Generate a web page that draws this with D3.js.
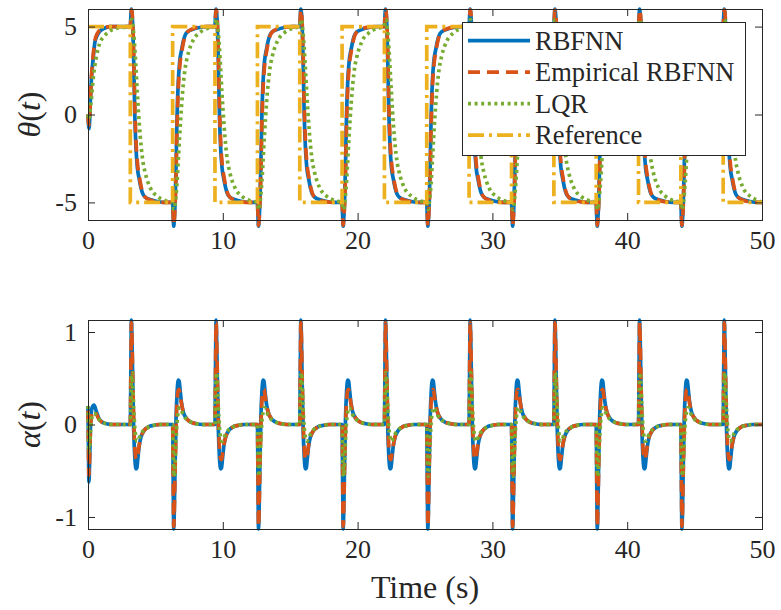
<!DOCTYPE html>
<html>
<head>
<meta charset="utf-8">
<script src="https://cdn.jsdelivr.net/npm/d3@7"></script>
<style>
body { margin: 0; background: #fff; }
#chart, #chart text, #chart tspan { font-family: 'Liberation Serif' !important; }
</style>
</head>
<body>
<svg id="chart" width="781" height="610" font-family="Liberation Serif"></svg>
<script>
// ---- data ----
// square wave reference switches every pi seconds
var switchTimes = [3.14, 6.28, 9.42, 12.57, 15.71, 18.85, 21.99, 25.13, 28.27, 31.42, 34.56, 37.70, 40.84, 43.98, 47.12];
var refLevels = [5, -5, 5, -5, 5, -5, 5, -5, 5, -5, 5, -5, 5, -5, 5, -5];
var endTime = 50;

var xTicks = [0, 10, 20, 30, 40, 50];
var thetaTicks = [-5, 0, 5];
var alphaTicks = [-1, 0, 1];
var seriesNames = ["RBFNN", "Empirical RBFNN", "LQR", "Reference"];
var seriesColors = ["#0072BD", "#D95319", "#77AC30", "#EDB120"];

// first segment, start at rest (t measured from 0)
var thetaInitDt = [0, 0.07, 0.12, 0.18, 0.25, 0.33, 0.42, 0.5, 0.65, 0.87, 1.2, 1.6, 2.2, 3.2];
var thetaInitRbfnn = [0, -0.8, -0.4, 0.85, 2.0, 2.75, 3.5, 4.05, 4.45, 4.73, 4.9, 5.0, 5.0, 5.0];
var thetaInitEmp = [0, -0.6, -0.2, 0.9, 2.1, 2.9, 3.65, 4.15, 4.55, 4.8, 4.93, 5.0, 5.0, 5.0];
var thetaInitLqr = [0, -0.3, -0.1, 0.4, 0.85, 1.6, 2.3, 2.75, 3.4, 4.05, 4.45, 4.73, 4.92, 5.0];

// response after a switch (t measured from the switch)
var thetaStepDt = [0, 0.04, 0.08, 0.12, 0.18, 0.25, 0.33, 0.42, 0.52, 0.67, 0.8, 0.92, 1.1, 1.5, 2.0, 2.6, 3.2];
var thetaDownRbfnn = [5, 5.6, 6.0, 5.8, 5.0, 3.0, 0.0, -1.9, -3.0, -3.7, -4.2, -4.5, -4.7, -4.85, -4.95, -5.0, -5.0];
var thetaUpRbfnn = [-5, -5.8, -6.35, -6.0, -5.0, -3.0, 0.0, 1.9, 3.0, 3.7, 4.2, 4.5, 4.7, 4.85, 4.95, 5.0, 5.0];
var thetaDownEmp = [5, 5.5, 5.95, 5.85, 5.2, 3.5, 0.6, -1.5, -2.7, -3.55, -4.1, -4.45, -4.7, -4.88, -4.97, -5.0, -5.0];
var thetaUpEmp = [-5, -5.7, -6.3, -6.05, -5.2, -3.5, -0.6, 1.5, 2.7, 3.55, 4.1, 4.45, 4.7, 4.88, 4.97, 5.0, 5.0];
var thetaDownLqr = [5, 5.2, 5.4, 5.4, 5.1, 4.6, 3.8, 2.6, 1.2, -0.6, -1.8, -2.6, -3.3, -4.2, -4.65, -4.9, -5.0];
var thetaUpLqr = [-5, -5.2, -5.4, -5.4, -5.1, -4.6, -3.8, -2.6, -1.2, 0.6, 1.8, 2.6, 3.3, 4.2, 4.65, 4.9, 5.0];

var alphaInitDt = [0, 0.03, 0.07, 0.12, 0.2, 0.3, 0.45, 0.6, 0.8, 1.0, 1.3, 1.8, 3.2];
var alphaInitRbfnn = [0.2, -0.2, -0.62, -0.4, 0.05, 0.18, 0.21, 0.15, 0.07, 0.03, 0.01, 0, 0];
var alphaInitEmp = [0.15, -0.15, -0.55, -0.35, 0.0, 0.12, 0.15, 0.12, 0.06, 0.03, 0.01, 0, 0];
var alphaInitLqr = [0.2, 0.0, -0.3, -0.25, -0.05, 0.08, 0.12, 0.1, 0.06, 0.03, 0.01, 0, 0];

var alphaStepDt = [0, 0.04, 0.08, 0.12, 0.18, 0.25, 0.33, 0.42, 0.48, 0.55, 0.65, 0.8, 1.0, 1.3, 1.7, 2.2, 3.2];
var alphaDownRbfnn = [0, 0.6, 1.13, 0.95, 0.45, -0.05, -0.35, -0.48, -0.47, -0.38, -0.24, -0.13, -0.07, -0.03, -0.01, 0, 0];
var alphaUpRbfnn = [0, -0.6, -1.13, -0.95, -0.45, 0.05, 0.35, 0.48, 0.47, 0.38, 0.24, 0.13, 0.07, 0.03, 0.01, 0, 0];
var alphaDownEmp = [0, 0.55, 1.1, 0.95, 0.5, 0.05, -0.25, -0.37, -0.38, -0.33, -0.23, -0.13, -0.07, -0.03, -0.01, 0, 0];
var alphaUpEmp = [0, -0.55, -1.1, -0.95, -0.5, -0.05, 0.25, 0.37, 0.38, 0.33, 0.23, 0.13, 0.07, 0.03, 0.01, 0, 0];
var alphaDownLqr = [0, 0.25, 0.5, 0.56, 0.42, 0.18, -0.03, -0.14, -0.18, -0.18, -0.15, -0.1, -0.06, -0.03, -0.01, 0, 0];
var alphaUpLqr = [0, -0.25, -0.5, -0.56, -0.42, -0.18, 0.03, 0.14, 0.18, 0.18, 0.15, 0.1, 0.06, 0.03, 0.01, 0, 0];

// ---- layout ----
var left = 88, right = 762;
var topPanel = { top: 9, bottom: 220 };
var botPanel = { top: 320, bottom: 529 };
var serifFont = "'Liberation Serif'";
var ink = "#262626";

var svg = d3.select("#chart");

var x = d3.scaleLinear().domain([0, endTime]).range([left, right]);
var yTheta = d3.scaleLinear().domain([-6, 6]).range([topPanel.bottom, topPanel.top]);
var yAlpha = d3.scaleLinear().domain([-1.13, 1.13]).range([botPanel.bottom, botPanel.top]);

// stitch the per-switch profiles into one series
function buildSeries(initDt, initVals, stepDt, downVals, upVals) {
	var pts = [];
	var starts = [0].concat(switchTimes);
	var lastVals = initVals;
	for (var k = 0; k < starts.length; k++) {
		var t0 = starts[k];
		var t1 = k + 1 < starts.length ? starts[k + 1] : endTime;
		var dts = k === 0 ? initDt : stepDt;
		var vals = k === 0 ? initVals : (refLevels[k] < 0 ? downVals : upVals);
		for (var i = 0; i < dts.length; i++) {
			if (t0 + dts[i] < t1 - 1e-6) pts.push({ t: t0 + dts[i], v: vals[i] });
		}
		lastVals = vals;
	}
	pts.push({ t: endTime, v: lastVals[lastVals.length - 1] });
	return pts;
}

function buildReference() {
	var pts = [];
	var starts = [0].concat(switchTimes);
	for (var k = 0; k < starts.length; k++) {
		var t1 = k + 1 < starts.length ? starts[k + 1] : endTime;
		pts.push({ t: starts[k], v: refLevels[k] });
		pts.push({ t: t1, v: refLevels[k] });
	}
	return pts;
}

var thetaSeries = [
	buildSeries(thetaInitDt, thetaInitRbfnn, thetaStepDt, thetaDownRbfnn, thetaUpRbfnn),
	buildSeries(thetaInitDt, thetaInitEmp, thetaStepDt, thetaDownEmp, thetaUpEmp),
	buildSeries(thetaInitDt, thetaInitLqr, thetaStepDt, thetaDownLqr, thetaUpLqr),
	buildReference()
];
var alphaSeries = [
	buildSeries(alphaInitDt, alphaInitRbfnn, alphaStepDt, alphaDownRbfnn, alphaUpRbfnn),
	buildSeries(alphaInitDt, alphaInitEmp, alphaStepDt, alphaDownEmp, alphaUpEmp),
	buildSeries(alphaInitDt, alphaInitLqr, alphaStepDt, alphaDownLqr, alphaUpLqr)
];

var lineWidth = 3.7;
var dashes = [null, "12,7", "3,3.6", "16,5,3,5"];

function styleText(sel, size) {
	sel.attr("font-family", "Liberation Serif")
		.attr("font-size", size)
		.style("font-family", serifFont)
		.attr("fill", ink);
}

function drawPanel(panel, y, yTicks, series) {
	var g = svg.append("g");

	// lines
	series.forEach(function(s, i) {
		var line = d3.line()
			.x(function(d) { return x(d.t); })
			.y(function(d) { return y(d.v); })
			.curve(i === 3 ? d3.curveLinear : d3.curveMonotoneX);
		g.append("path")
			.datum(s)
			.attr("d", line)
			.attr("fill", "none")
			.attr("stroke", seriesColors[i])
			.attr("stroke-width", lineWidth)
			.attr("stroke-dasharray", dashes[i]);
	});

	// box
	g.append("rect")
		.attr("x", left + 0.5)
		.attr("y", panel.top + 0.5)
		.attr("width", right - left)
		.attr("height", panel.bottom - panel.top)
		.attr("fill", "none")
		.attr("stroke", ink)
		.attr("stroke-width", 1);

	// axes, MATLAB style ticks pointing inward on all sides
	var ax = g.append("g")
		.attr("transform", "translate(0," + panel.bottom + ")")
		.call(d3.axisBottom(x).tickValues(xTicks).tickSizeInner(-7).tickSizeOuter(0).tickPadding(11));
	var axTop = g.append("g")
		.attr("transform", "translate(0," + panel.top + ")")
		.call(d3.axisTop(x).tickValues(xTicks).tickSizeInner(-7).tickSizeOuter(0).tickFormat(""));
	var ay = g.append("g")
		.attr("transform", "translate(" + left + ",0)")
		.call(d3.axisLeft(y).tickValues(yTicks).tickSizeInner(-7).tickSizeOuter(0).tickPadding(11));
	var ayRight = g.append("g")
		.attr("transform", "translate(" + right + ",0)")
		.call(d3.axisRight(y).tickValues(yTicks).tickSizeInner(-7).tickSizeOuter(0).tickFormat(""));

	[ax, axTop, ay, ayRight].forEach(function(a) {
		a.attr("font-family", "Liberation Serif").attr("font-size", 26);
		a.select(".domain").remove();
		a.selectAll("line").attr("stroke", ink);
		styleText(a.selectAll("text"), 26);
	});
	ay.selectAll("text").text(function(d) { return d < 0 ? "-" + Math.abs(d) : d; });
	return g;
}

drawPanel(topPanel, yTheta, thetaTicks, thetaSeries);
drawPanel(botPanel, yAlpha, alphaTicks, alphaSeries);

// y labels
function yLabel(cx, cy, sym) {
	var t = svg.append("text")
		.attr("transform", "translate(" + cx + "," + cy + ") rotate(-90)")
		.attr("text-anchor", "middle");
	styleText(t, 32);
	t.append("tspan").style("font-style", "italic").text(sym);
	t.append("tspan").text("(");
	t.append("tspan").style("font-style", "italic").text("t");
	t.append("tspan").text(")");
}
yLabel(40, (topPanel.top + topPanel.bottom) / 2, "θ");
yLabel(40, (botPanel.top + botPanel.bottom) / 2, "α");

// x label
var xLabel = svg.append("text")
	.attr("x", (left + right) / 2)
	.attr("y", 598)
	.attr("text-anchor", "middle")
	.text("Time (s)");
styleText(xLabel, 32);

// legend
var legend = svg.append("g").attr("class", "legend");
legend.append("rect")
	.attr("x", 462.5)
	.attr("y", 22.5)
	.attr("width", 283)
	.attr("height", 133)
	.attr("fill", "#fff")
	.attr("stroke", ink)
	.attr("stroke-width", 1);

var items = legend.selectAll("g.item")
	.data(seriesNames)
	.enter().append("g")
	.attr("class", "item")
	.attr("transform", function(d, i) { return "translate(0," + (40.7 + i * 31.5) + ")"; });

items.append("line")
	.attr("x1", 468)
	.attr("x2", 530)
	.attr("stroke", function(d, i) { return seriesColors[i]; })
	.attr("stroke-width", lineWidth)
	.attr("stroke-dasharray", function(d, i) { return dashes[i]; });

styleText(items.append("text")
	.attr("x", 535)
	.attr("dy", "0.35em")
	.text(function(d) { return d; }), 26.5);
</script>
</body>
</html>
